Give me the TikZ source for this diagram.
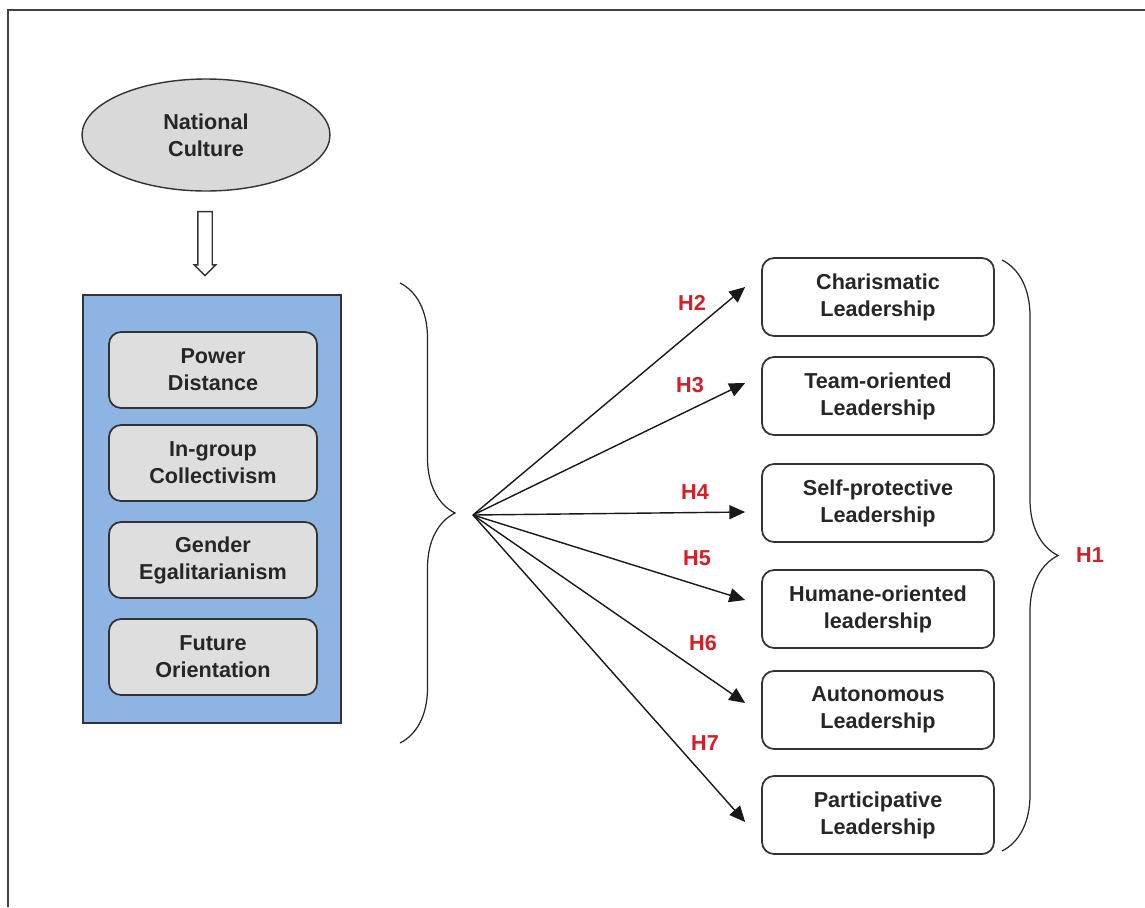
\documentclass[tikz,border=0pt]{standalone}
\usepackage{fontspec}
\setmainfont{Liberation Sans}
\usetikzlibrary{arrows.meta,shapes.geometric,shapes.arrows,decorations.pathreplacing}
\definecolor{cultgray}{RGB}{217,217,217}
\definecolor{dimgray}{RGB}{222,222,222}
\definecolor{panelblue}{RGB}{141,180,226}
\definecolor{hypred}{RGB}{212,30,40}
\begin{document}
\begin{tikzpicture}[x=0.02cm, y=-0.02cm,
        every node/.style={font=\fontsize{12.3}{15.4}\selectfont\bfseries, align=center, text=black!85},
        culture/.style={ellipse, draw=black!80, line width=0.8pt, fill=cultgray, minimum width=4.96cm, minimum height=2.24cm, inner sep=0pt},
        panel/.style={rectangle, draw=black!80, line width=1pt, fill=panelblue, minimum width=5.16cm, minimum height=8.56cm},
        dimbox/.style={rectangle, rounded corners=0.24cm, draw=black!80, line width=1pt, fill=dimgray, minimum width=4.16cm, minimum height=1.52cm},
        leadbox/.style={rectangle, rounded corners=0.24cm, draw=black!80, line width=1pt, fill=white, minimum width=4.64cm, minimum height=1.56cm},
        hollow/.style={single arrow, draw=black!80, line width=0.8pt, fill=white, shape border rotate=270, minimum height=1.28cm, minimum width=0pt, single arrow head extend=0.07cm, inner sep=0pt},
        link/.style={-{Triangle[length=9pt,width=8pt]}, line width=0.8pt, black!90},
        curly/.style={decorate, decoration={brace, amplitude=#1}, line width=0.7pt, black!85},
        hyp/.style={text=hypred}
    ]
        \useasboundingbox (0,0) rectangle (1145,907);
        % Frame
        \draw[line width=1.1pt, black!75] (8,907) -- (8,10) -- (1145,10);

        % National culture
        \node[culture] (culture) at (206,135) {National\\Culture};
        \node[hollow] (down) at (205,240) {\rule{0.26cm}{0pt}\rule{0pt}{0.26cm}};

        % Cultural dimensions
        \node[panel] (panel) at (212,509) {};
        \foreach \i/\y/\txt in {1/370/{Power\\Distance}, 2/463/{In-group\\Collectivism},
                                3/560/{Gender\\Egalitarianism}, 4/657/{Future\\Orientation}} {
            \node[dimbox] (dim\i) at (213,\y) {\txt};
        }

        % Left brace
        \coordinate (lbtop) at (400,283);
        \coordinate (lbbot) at (400,743);
        \draw[curly=1.1cm] (lbtop) -- (lbbot);
        \coordinate (fan) at (473,515);

        % Leadership styles
        \foreach \i/\y/\txt in {1/297/{Charismatic\\Leadership}, 2/396/{Team-oriented\\Leadership},
                                3/503/{Self-protective\\Leadership}, 4/609/{Humane-oriented\\leadership},
                                5/710/{Autonomous\\Leadership}, 6/815/{Participative\\Leadership}} {
            \node[leadbox] (lead\i) at (878,\y) {\txt};
        }

        % Hypothesised links
        \foreach \i/\dy in {1/0.2, 2/0.26, 3/-0.18, 4/0.18, 5/0.14, 6/-0.14} {
            \draw[link] (fan) -- ([xshift=-0.32cm, yshift=\dy cm]lead\i.west);
        }
        \node[hyp] (h2) at (692,303) {H2};
        \node[hyp] (h3) at (690,385) {H3};
        \node[hyp] (h4) at (695,492) {H4};
        \node[hyp] (h5) at (697,558) {H5};
        \node[hyp] (h6) at (703,643) {H6};
        \node[hyp] (h7) at (705,743) {H7};

        % Right brace
        \coordinate (rbtop) at (1002,260);
        \coordinate (rbbot) at (1002,851);
        \draw[curly=1.12cm] (rbtop) -- (rbbot);
        \node[hyp] (h1) at (1090,555) {H1};
    \end{tikzpicture}
\end{document}
